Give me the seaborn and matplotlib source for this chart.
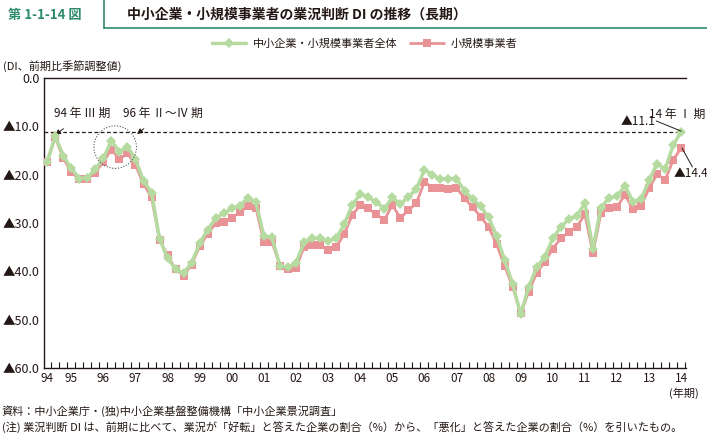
import matplotlib
matplotlib.use("Agg")
import matplotlib.pyplot as plt
import seaborn as sns
import numpy as np
import pandas as pd
from matplotlib.patches import Ellipse
from matplotlib.lines import Line2D

# ---- data (quarterly, 1994 Q2 .. 2014 Q1) ----
year_labels = ["94", "95", "96", "97", "98", "99", "00", "01", "02", "03", "04",
               "05", "06", "07", "08", "09", "10", "11", "12", "13", "14"]
total = [-17.3, -12.0, -16.1,
         -18.7, -20.8, -20.6, -18.9,
         -16.6, -13.0, -15.3, -14.2,
         -16.8, -21.3, -23.7, -33.3,
         -37.3, -39.6, -40.4, -38.2,
         -34.2, -31.4, -29.0, -28.0,
         -27.0, -26.4, -24.9, -25.7,
         -32.7, -33.0, -38.8, -39.2,
         -38.3, -34.0, -33.2, -33.2,
         -33.7, -33.2, -30.3, -26.3,
         -24.0, -24.7, -25.6, -27.1,
         -24.7, -26.1, -24.6, -23.0,
         -19.0, -20.0, -21.0, -20.8,
         -20.8, -23.4, -25.0, -26.5,
         -28.8, -32.7, -37.7, -42.6,
         -48.9, -43.2, -39.2, -37.0,
         -33.2, -30.8, -29.2, -28.5,
         -25.9, -35.3, -26.8, -24.8,
         -24.4, -22.3, -25.6, -25.1,
         -21.1, -17.7, -18.9, -13.9,
         -11.1]
small = [-17.3, -12.3, -16.6,
         -19.4, -21.0, -20.8, -19.6,
         -17.3, -14.8, -16.8, -15.6,
         -18.0, -21.9, -24.7, -33.5,
         -36.7, -39.6, -40.9, -38.6,
         -34.8, -32.2, -30.1, -29.7,
         -28.9, -27.8, -26.5, -26.8,
         -33.9, -33.9, -38.8, -39.6,
         -39.3, -35.0, -34.6, -34.6,
         -35.5, -35.0, -32.3, -28.4,
         -26.3, -27.0, -28.2, -29.4,
         -26.3, -28.9, -27.4, -25.9,
         -21.5, -22.7, -22.7, -23.0,
         -22.7, -24.9, -26.7, -28.7,
         -30.8, -34.4, -38.9, -43.2,
         -48.7, -44.2, -40.3, -38.1,
         -35.3, -33.2, -31.8, -30.8,
         -28.2, -36.2, -28.0, -26.8,
         -26.6, -24.2, -27.2, -26.5,
         -22.8, -19.9, -21.1, -17.0,
         -14.4]
series_names = ["中小企業・小規模事業者全体", "小規模事業者"]
y_ticks = [0, -10, -20, -30, -40, -50, -60]

GREEN = "#b6dba0"
PINK = "#e99396"
DARK = "#231815"

sns.set_theme(style="white")
plt.rcParams['font.family'] = ['Noto Sans CJK JP', 'DejaVu Sans']
plt.rcParams['text.color'] = DARK

fig = plt.figure(figsize=(7.07, 4.36), dpi=100)
ax = fig.add_axes([44 / 707, 1 - 368 / 436, (686 - 44) / 707, (368 - 78) / 436])

x = np.arange(len(total))
df = pd.DataFrame({"x": x, "total": total, "small": small})

sns.lineplot(data=df, x="x", y="small", ax=ax, color=PINK, lw=2.0,
             marker="s", markersize=6.0, markeredgewidth=0, zorder=3)
sns.lineplot(data=df, x="x", y="total", ax=ax, color=GREEN, lw=2.5,
             marker="D", markersize=5.0, markeredgewidth=0, zorder=4)

# reference dashed line at latest level
ax.plot([-0.4, x[-1]], [total[-1], total[-1]], ls=(0, (3, 2)), color=DARK, lw=0.9, zorder=2)

ax.set_xlim(-0.4, 79.6)
ax.set_ylim(-60, 0)

year_pos = [0] + [3 + 4 * k for k in range(len(year_labels) - 1)]
ax.set_xticks(year_pos)
ax.set_xticklabels(year_labels, fontsize=8.5, color=DARK)
ax.set_xticks(np.arange(0.5, len(total), 1), minor=True)
ax.tick_params(axis="x", which="major", length=0, pad=3)
ax.tick_params(axis="x", which="minor", direction="in", length=4, width=0.8, color=DARK, bottom=True)

ax.set_yticks(y_ticks)
ax.set_yticklabels(["0.0" if v == 0 else "▲%.1f" % (-v) for v in y_ticks], fontsize=9, color=DARK)
ax.tick_params(axis="y", length=0, pad=3)

ax.set_xlabel("")
ax.set_ylabel("")
for s in ["left", "bottom", "top"]:
    ax.spines[s].set_color(DARK)
    ax.spines[s].set_linewidth(1.0)
ax.spines["right"].set_visible(False)
ax.grid(False)

# annotations
ax.annotate("94 年 Ⅲ 期", xy=(1.0, -11.8), xytext=(4.4, -7.4), fontsize=8.5,
            ha="center", va="center", color=DARK,
            arrowprops=dict(arrowstyle="-|>", color=DARK, lw=0.7, shrinkA=6, shrinkB=0,
                            mutation_scale=8))
ax.annotate("96 年 Ⅱ～Ⅳ 期", xy=(11.2, -11.6), xytext=(14.4, -7.4), fontsize=8.5,
            ha="center", va="center", color=DARK,
            arrowprops=dict(arrowstyle="-|>", color=DARK, lw=0.7, shrinkA=6, shrinkB=0,
                            mutation_scale=8))
ax.add_patch(Ellipse((8.47, -14.3), 5.3, 8.8, fill=False, ls=(0, (1, 1.5)), lw=0.8,
                     edgecolor="#555555", zorder=5))

fig.text(705 / 707, 1 - 114 / 436, "14 年 Ⅰ 期", fontsize=8.5, ha="right", va="center", color=DARK)
ax.text(75.8, -9.0, "▲11.1", fontsize=8.5, ha="right", va="center", color=DARK, clip_on=False)
ax.plot([75.9, 79.0], [-8.9, -11.0], color=DARK, lw=0.7, clip_on=False, zorder=6)
ax.text(78.0, -19.7, "▲14.4", fontsize=8.5, ha="left", va="center", color=DARK, clip_on=False)
ax.plot([79.1, 80.4], [-14.5, -18.4], color=DARK, lw=0.7, clip_on=False, zorder=6)

# header
fig.text(8 / 707, 1 - 15 / 436, "第 1-1-14 図", fontsize=9.5, fontweight="bold",
         color="#2e8b6e", ha="left", va="center")
fig.text(127 / 707, 1 - 15 / 436, "中小企業・小規模事業者の業況判断 DI の推移（長期）",
         fontsize=10, fontweight="bold", color=DARK, ha="left", va="center")
fig.add_artist(Line2D([104 / 707, 104 / 707], [1.0, 1 - 28 / 436], color="#2e8b6e", lw=1.2))
fig.add_artist(Line2D([104 / 707, 1.0], [1 - 28 / 436, 1 - 28 / 436], color="#2e8b6e", lw=1.2))

# legend
handles = [Line2D([], [], color=GREEN, lw=2.5, marker="D", markersize=5, markeredgewidth=0),
           Line2D([], [], color=PINK, lw=2.0, marker="s", markersize=6, markeredgewidth=0)]
fig.legend(handles, series_names, loc="center", bbox_to_anchor=(0.516, 1 - 44 / 436),
           ncol=2, frameon=False, fontsize=8, handlelength=3.0, handletextpad=0.6,
           columnspacing=1.2)

fig.text(3 / 707, 1 - 66 / 436, "(DI、前期比季節調整値)", fontsize=8, ha="left", va="center", color=DARK)
fig.text(699 / 707, 1 - 393 / 436, "(年期)", fontsize=8, ha="right", va="center", color=DARK)

fig.text(2 / 707, 1 - 411 / 436, "資料：中小企業庁・(独)中小企業基盤整備機構「中小企業景況調査」",
         fontsize=8, ha="left", va="center", color=DARK)
fig.text(2 / 707, 1 - 428 / 436,
         "(注) 業況判断 DI は、前期に比べて、業況が「好転」と答えた企業の割合（%）から、「悪化」と答えた企業の割合（%）を引いたもの。",
         fontsize=8, ha="left", va="center", color=DARK)

fig.savefig("out.png", dpi=100)
